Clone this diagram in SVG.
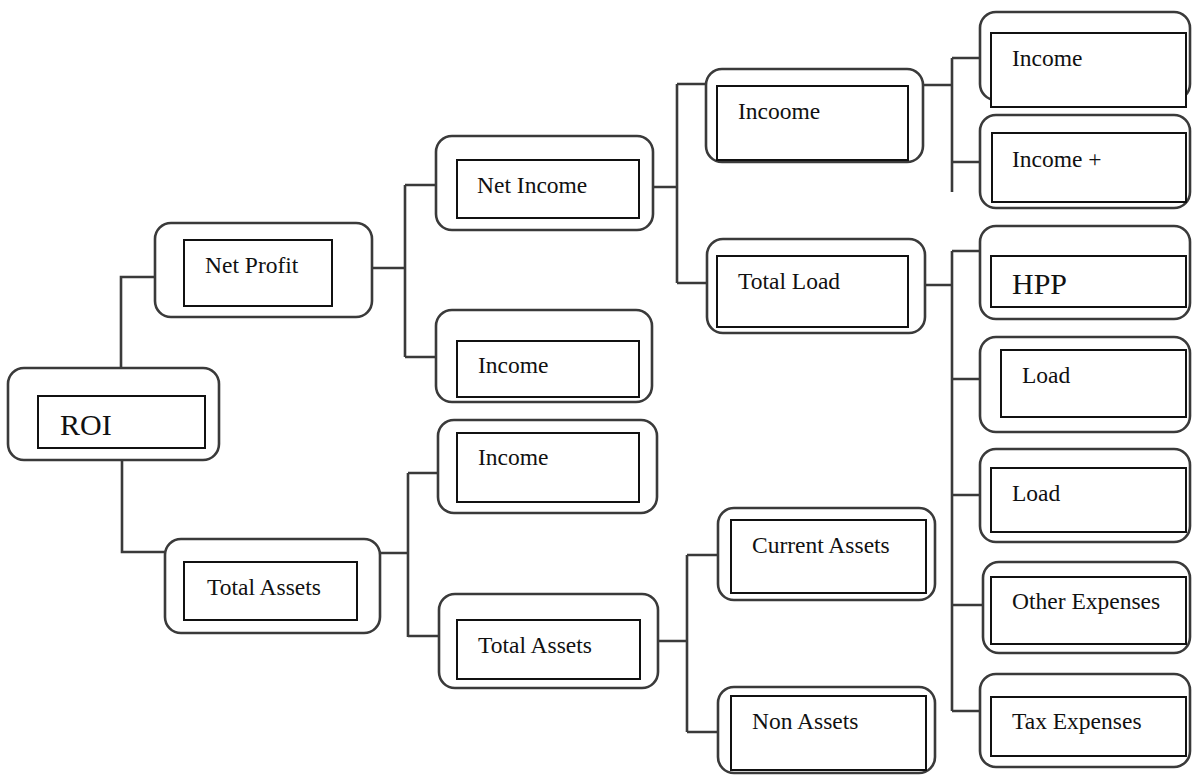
<svg xmlns="http://www.w3.org/2000/svg" width="1192" height="776" viewBox="0 0 1192 776">
<style>
.o{fill:#fff;stroke:#3a3a3a;stroke-width:2.6}
.i{fill:#fff;stroke:#111;stroke-width:2}
.t{font-family:"Liberation Serif","Times New Roman",serif;font-size:23.5px;fill:#111}
.b{font-size:30px}
.c{fill:none;stroke:#3a3a3a;stroke-width:2.6}
</style>
<rect width="1192" height="776" fill="#fff"/>
<g id="connectors">
<path class="c" d="M121,368V277H155M122,460V552H165"/>
<path class="c" d="M372,268H405M405,185V357M405,185H436M405,357H436"/>
<path class="c" d="M380,553H408M408,473V637M408,473H438M408,636H439"/>
<path class="c" d="M653,187H677M677,84V283M677,84H706M677,283H707"/>
<path class="c" d="M923,85H952M952,58V192M952,58H980M952,162H980"/>
<path class="c" d="M925,285H952M952,251V711M952,251H980M952,379H980M952,495H980M952,605H983M952,711H980"/>
<path class="c" d="M658,641H687M687,555V732M687,555H718M687,732H718"/>
</g>
<g id="roi"><rect class="o" x="8" y="368" width="211" height="92" rx="16"/><rect class="i" x="38" y="396" width="167" height="52"/><text class="t b" x="60" y="435">ROI</text></g>
<g id="net-profit"><rect class="o" x="155" y="223" width="217" height="94" rx="16"/><rect class="i" x="184" y="240" width="148" height="66"/><text class="t" x="205" y="273">Net Profit</text></g>
<g id="total-assets"><rect class="o" x="165" y="539" width="215" height="94" rx="16"/><rect class="i" x="184" y="562" width="173" height="58"/><text class="t" x="207" y="595">Total Assets</text></g>
<g id="net-income"><rect class="o" x="436" y="136" width="217" height="94" rx="16"/><rect class="i" x="457" y="160" width="182" height="58"/><text class="t" x="477" y="193">Net Income</text></g>
<g id="income-a"><rect class="o" x="436" y="310" width="216" height="92" rx="16"/><rect class="i" x="457" y="341" width="182" height="56"/><text class="t" x="478" y="373">Income</text></g>
<g id="income-b"><rect class="o" x="438" y="420" width="219" height="93" rx="16"/><rect class="i" x="457" y="433" width="182" height="69"/><text class="t" x="478" y="465">Income</text></g>
<g id="total-assets-2"><rect class="o" x="439" y="594" width="219" height="94" rx="16"/><rect class="i" x="457" y="620" width="183" height="59"/><text class="t" x="478" y="653">Total Assets</text></g>
<g id="incoome"><rect class="o" x="706" y="69" width="217" height="93" rx="16"/><rect class="i" x="717" y="86" width="191" height="74"/><text class="t" x="738" y="119">Incoome</text></g>
<g id="total-load"><rect class="o" x="707" y="239" width="218" height="94" rx="16"/><rect class="i" x="717" y="256" width="191" height="71"/><text class="t" x="738" y="289">Total Load</text></g>
<g id="current-assets"><rect class="o" x="718" y="508" width="217" height="92" rx="16"/><rect class="i" x="731" y="520" width="195" height="73"/><text class="t" x="752" y="553">Current Assets</text></g>
<g id="non-assets"><rect class="o" x="718" y="687" width="217" height="86" rx="16"/><rect class="i" x="731" y="696" width="195" height="74"/><text class="t" x="752" y="729">Non Assets</text></g>
<g id="income-1"><rect class="o" x="980" y="12" width="210" height="88" rx="16"/><rect class="i" x="991" y="33" width="195" height="74"/><text class="t" x="1012" y="66">Income</text></g>
<g id="income-plus"><rect class="o" x="980" y="115" width="210" height="93" rx="16"/><rect class="i" x="992" y="133" width="194" height="69"/><text class="t" x="1012" y="167">Income +</text></g>
<g id="hpp"><rect class="o" x="980" y="226" width="210" height="93" rx="16"/><rect class="i" x="991" y="256" width="195" height="51"/><text class="t b" x="1012" y="294">HPP</text></g>
<g id="load-1"><rect class="o" x="980" y="337" width="210" height="95" rx="16"/><rect class="i" x="1001" y="350" width="185" height="67"/><text class="t" x="1022" y="383">Load</text></g>
<g id="load-2"><rect class="o" x="980" y="449" width="210" height="93" rx="16"/><rect class="i" x="991" y="468" width="195" height="64"/><text class="t" x="1012" y="501">Load</text></g>
<g id="other-expenses"><rect class="o" x="983" y="562" width="207" height="91" rx="16"/><rect class="i" x="991" y="577" width="195" height="67"/><text class="t" x="1012" y="609">Other Expenses</text></g>
<g id="tax-expenses"><rect class="o" x="980" y="674" width="210" height="93" rx="16"/><rect class="i" x="991" y="697" width="195" height="59"/><text class="t" x="1012" y="729">Tax Expenses</text></g>
</svg>
